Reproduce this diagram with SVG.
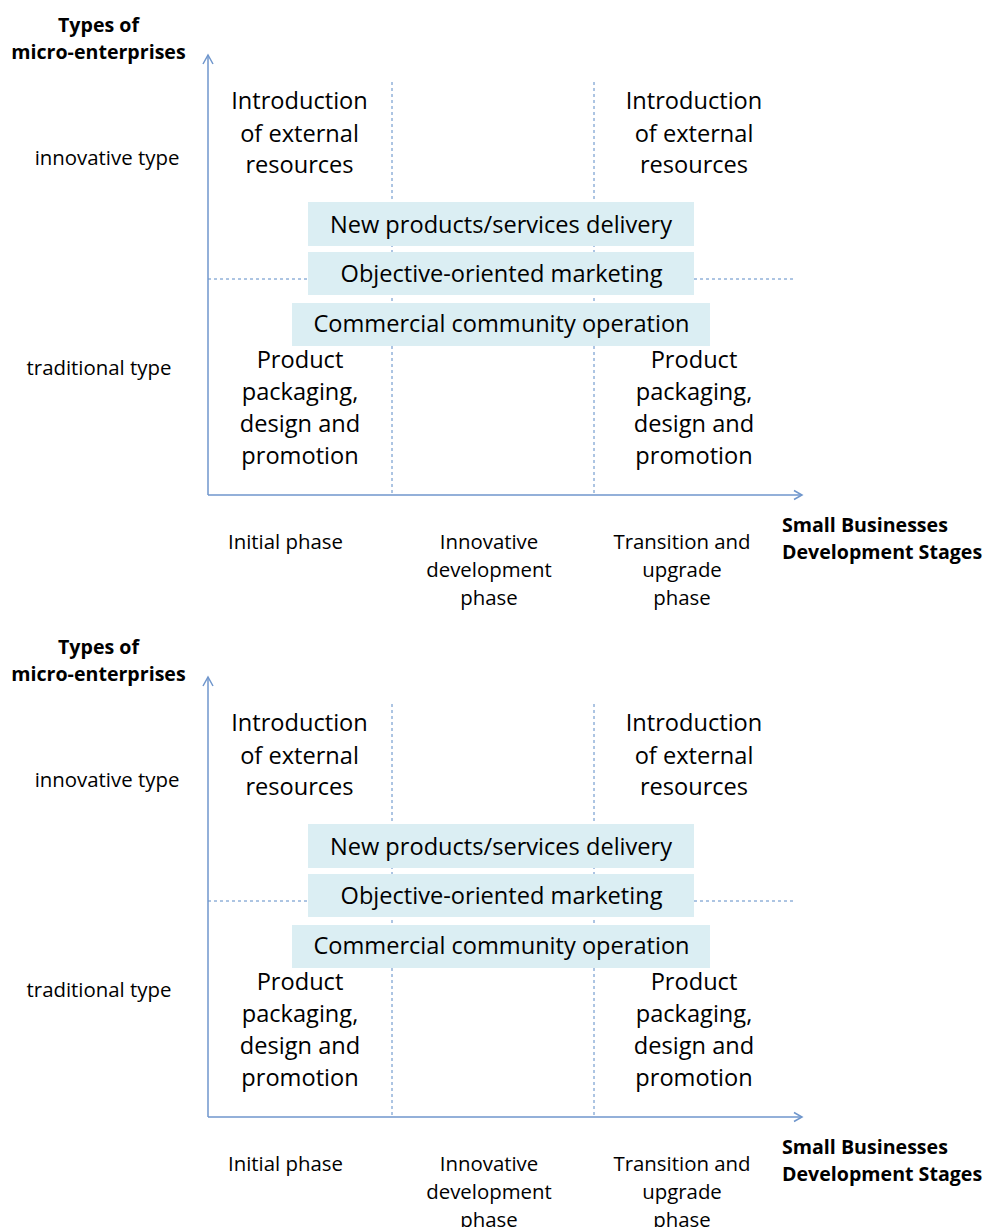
<svg xmlns="http://www.w3.org/2000/svg" width="987" height="1227" viewBox="0 0 987 1227">
<defs>
<style>
.t{font-family:"Open Sans","Liberation Sans",sans-serif;font-size:23.6px;fill:#000;text-anchor:middle}
.s{font-family:"Open Sans","Liberation Sans",sans-serif;font-size:20.4px;fill:#000;text-anchor:middle}
.b{font-family:"Open Sans","Liberation Sans",sans-serif;font-size:19.6px;font-weight:bold;fill:#000}
.box{fill:#DBEEF3}
.axis{stroke:#6F96CC;stroke-width:1.5;fill:none}
.dash{stroke:#5B8AC6;stroke-width:1;stroke-dasharray:3,3;fill:none}
</style>
</defs>
<rect width="987" height="1227" fill="#fff"/>

<!-- ===== Diagram 1 ===== -->
<g id="chart1">
<g id="connectors1">
<line class="dash" x1="392" y1="82" x2="392" y2="494"/>
<line class="dash" x1="594" y1="82" x2="594" y2="494"/>
<line class="dash" x1="208" y1="279" x2="308" y2="279"/>
<line class="dash" x1="694" y1="279" x2="795" y2="279"/>
<line class="axis" x1="208" y1="495" x2="208" y2="55"/>
<polyline class="axis" points="203,64 208,55 213,64"/>
<line class="axis" x1="208" y1="495" x2="802" y2="495"/>
<polyline class="axis" points="794,490.5 802,495 794,499.5"/>
</g>
<g id="ylabel1">
<text class="b" text-anchor="middle" x="98.5" y="32">Types of</text>
<text class="b" text-anchor="middle" x="98.5" y="59">micro-enterprises</text>
</g>
<g id="innov1"><text class="s" x="107" y="165">innovative type</text></g>
<g id="trad1"><text class="s" x="99" y="375">traditional type</text></g>
<g id="intro1a">
<text class="t" x="299.5" y="109">Introduction</text>
<text class="t" x="299.5" y="142">of external</text>
<text class="t" x="299.5" y="173">resources</text>
</g>
<g id="intro1b">
<text class="t" x="694" y="109">Introduction</text>
<text class="t" x="694" y="142">of external</text>
<text class="t" x="694" y="173">resources</text>
</g>
<g id="box1a"><rect class="box" x="308" y="202" width="386" height="44"/><text class="t" x="501" y="233">New products/services delivery</text></g>
<g id="box1b"><rect class="box" x="308" y="252" width="386" height="43"/><text class="t" x="501.5" y="282">Objective-oriented marketing</text></g>
<g id="box1c"><rect class="box" x="292" y="303" width="418" height="43"/><text class="t" x="501.5" y="332">Commercial community operation</text></g>
<g id="prod1a">
<text class="t" x="300" y="368">Product</text>
<text class="t" x="300" y="400">packaging,</text>
<text class="t" x="300" y="432">design and</text>
<text class="t" x="300" y="464">promotion</text>
</g>
<g id="prod1b">
<text class="t" x="694" y="368">Product</text>
<text class="t" x="694" y="400">packaging,</text>
<text class="t" x="694" y="432">design and</text>
<text class="t" x="694" y="464">promotion</text>
</g>
<g id="phase1a"><text class="s" x="285.5" y="549">Initial phase</text></g>
<g id="phase1b">
<text class="s" x="489" y="549">Innovative</text>
<text class="s" x="489" y="577">development</text>
<text class="s" x="489" y="605">phase</text>
</g>
<g id="phase1c">
<text class="s" x="682" y="549">Transition and</text>
<text class="s" x="682" y="577">upgrade</text>
<text class="s" x="682" y="605">phase</text>
</g>
<g id="xlabel1">
<text class="b" x="782" y="532">Small Businesses</text>
<text class="b" x="782" y="559">Development Stages</text>
</g>
</g>

<!-- ===== Diagram 2 ===== -->
<g id="chart2" transform="translate(0,622)">
<g id="connectors2">
<line class="dash" x1="392" y1="82" x2="392" y2="494"/>
<line class="dash" x1="594" y1="82" x2="594" y2="494"/>
<line class="dash" x1="208" y1="279" x2="308" y2="279"/>
<line class="dash" x1="694" y1="279" x2="795" y2="279"/>
<line class="axis" x1="208" y1="495" x2="208" y2="55"/>
<polyline class="axis" points="203,64 208,55 213,64"/>
<line class="axis" x1="208" y1="495" x2="802" y2="495"/>
<polyline class="axis" points="794,490.5 802,495 794,499.5"/>
</g>
<g id="ylabel2">
<text class="b" text-anchor="middle" x="98.5" y="32">Types of</text>
<text class="b" text-anchor="middle" x="98.5" y="59">micro-enterprises</text>
</g>
<g id="innov2"><text class="s" x="107" y="165">innovative type</text></g>
<g id="trad2"><text class="s" x="99" y="375">traditional type</text></g>
<g id="intro2a">
<text class="t" x="299.5" y="109">Introduction</text>
<text class="t" x="299.5" y="142">of external</text>
<text class="t" x="299.5" y="173">resources</text>
</g>
<g id="intro2b">
<text class="t" x="694" y="109">Introduction</text>
<text class="t" x="694" y="142">of external</text>
<text class="t" x="694" y="173">resources</text>
</g>
<g id="box2a"><rect class="box" x="308" y="202" width="386" height="44"/><text class="t" x="501" y="233">New products/services delivery</text></g>
<g id="box2b"><rect class="box" x="308" y="252" width="386" height="43"/><text class="t" x="501.5" y="282">Objective-oriented marketing</text></g>
<g id="box2c"><rect class="box" x="292" y="303" width="418" height="43"/><text class="t" x="501.5" y="332">Commercial community operation</text></g>
<g id="prod2a">
<text class="t" x="300" y="368">Product</text>
<text class="t" x="300" y="400">packaging,</text>
<text class="t" x="300" y="432">design and</text>
<text class="t" x="300" y="464">promotion</text>
</g>
<g id="prod2b">
<text class="t" x="694" y="368">Product</text>
<text class="t" x="694" y="400">packaging,</text>
<text class="t" x="694" y="432">design and</text>
<text class="t" x="694" y="464">promotion</text>
</g>
<g id="phase2a"><text class="s" x="285.5" y="549">Initial phase</text></g>
<g id="phase2b">
<text class="s" x="489" y="549">Innovative</text>
<text class="s" x="489" y="577">development</text>
<text class="s" x="489" y="605">phase</text>
</g>
<g id="phase2c">
<text class="s" x="682" y="549">Transition and</text>
<text class="s" x="682" y="577">upgrade</text>
<text class="s" x="682" y="605">phase</text>
</g>
<g id="xlabel2">
<text class="b" x="782" y="532">Small Businesses</text>
<text class="b" x="782" y="559">Development Stages</text>
</g>
</g>
</svg>
